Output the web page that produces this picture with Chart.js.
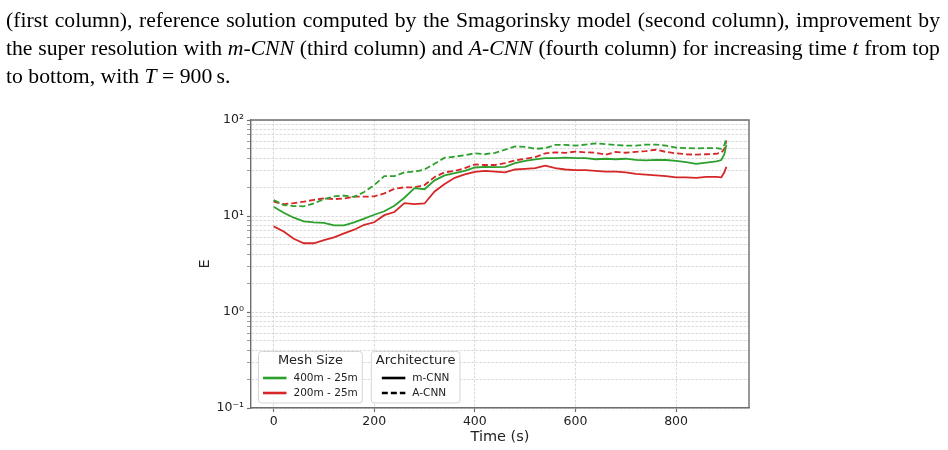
<!DOCTYPE html>
<html>
<head>
<meta charset="utf-8">
<script src="https://cdn.jsdelivr.net/npm/chart.js@4.4.0/dist/chart.umd.min.js"></script>
<style>
  html, body { margin: 0; padding: 0; background: #fff; }
  body { width: 948px; height: 450px; position: relative; overflow: hidden; }
  #energie { position: absolute; left: 0; top: 0; }
  #caption {
    position: absolute; left: 6px; top: 5.7px; width: 934px;
    font-family: "Liberation Serif", "Times New Roman", serif;
    font-size: 21.7px; line-height: 28px; color: #000;
  }
  #caption div { white-space: nowrap; }
  #caption .just { text-align: justify; text-align-last: justify; }
</style>
</head>
<body>
<canvas id="energie" width="948" height="450"></canvas>
<div id="caption">
  <div class="just">(first column), reference solution computed by the Smagorinsky model (second column), improvement by</div>
  <div class="just">the super resolution with <i>m-CNN</i> (third column) and <i>A-CNN</i> (fourth column) for increasing time <i>t</i> from top</div>
  <div>to bottom, with <i>T</i>&nbsp;=&nbsp;900&thinsp;s.</div>
</div>
<script>
var time = [0, 20, 40, 60, 80, 100, 120, 140, 160, 180,
  200, 220, 240, 260, 280, 300, 320, 340, 360, 380,
  400, 420, 440, 460, 480, 500, 520, 540, 560, 580,
  600, 620, 640, 660, 680, 700, 720, 740, 760, 780,
  800, 820, 840, 860, 880, 890, 896, 900];

// 400m - 25m, m-CNN (green solid)
var mCnn400 = [12.5, 10.8, 9.6, 8.8, 8.6, 8.5, 8.0, 8.0, 8.6, 9.4,
  10.3, 11.2, 12.8, 15.5, 19.5, 19.0, 23.5, 26.5, 28.0, 29.5,
  32.0, 32.5, 32.3, 32.5, 35.5, 37.5, 38.8, 40.0, 40.0, 40.5,
  40.0, 40.0, 39.0, 39.5, 39.0, 39.5, 38.5, 38.0, 38.5, 38.3,
  37.5, 36.5, 35.0, 36.0, 37.0, 38.3, 44.0, 55.0];
// 200m - 25m, m-CNN (red solid)
var mCnn200 = [7.8, 6.9, 5.8, 5.2, 5.2, 5.6, 6.0, 6.6, 7.2, 8.1,
  8.6, 10.2, 11.0, 13.6, 13.3, 13.5, 18.0, 21.5, 25.0, 27.2,
  28.8, 29.5, 29.0, 28.5, 30.5, 31.0, 31.5, 33.5, 31.5, 30.5,
  30.0, 30.0, 29.5, 29.0, 29.0, 28.5, 27.4, 27.0, 26.5, 26.0,
  25.3, 25.3, 25.0, 25.5, 25.5, 25.3, 28.5, 32.5];
// 400m - 25m, A-CNN (green dashed)
var aCnn400 = [14.7, 13.0, 12.7, 12.6, 13.5, 15.0, 16.0, 16.3, 15.8, 17.8,
  21.0, 26.0, 26.0, 28.5, 29.0, 30.5, 35.0, 40.5, 41.5, 43.0,
  45.0, 44.0, 45.5, 49.0, 53.0, 52.5, 50.0, 51.0, 55.0, 55.0,
  54.0, 55.5, 57.0, 56.0, 55.0, 54.0, 54.0, 55.5, 55.5, 54.0,
  51.5, 51.0, 50.7, 51.0, 51.0, 50.0, 55.0, 64.0];
// 200m - 25m, A-CNN (red dashed)
var aCnn200 = [14.1, 13.3, 13.6, 14.1, 14.7, 15.3, 15.0, 15.2, 15.9, 15.9,
  16.0, 17.2, 19.2, 19.9, 19.9, 21.0, 25.5, 28.5, 29.5, 31.5,
  34.5, 34.0, 34.0, 35.5, 38.0, 39.5, 41.0, 45.0, 46.0, 45.5,
  46.8, 46.0, 45.6, 43.5, 46.5, 45.6, 46.5, 47.5, 49.0, 46.5,
  45.0, 44.0, 43.5, 44.0, 44.5, 45.6, 50.0, 61.0];

var xTicks = [0, 200, 400, 600, 800];
var yTicks = [0.1, 1, 10, 100];
var yTickLabels = ['10\u207B\u00B9', '10\u2070', '10\u00B9', '10\u00B2'];

var meshTitle = 'Mesh Size';
var meshLabels = ['400m - 25m', '200m - 25m'];
var archTitle = 'Architecture';
var archLabels = ['m-CNN', 'A-CNN'];

var green = '#2ca02c';
var red = '#d62728';
var spine = '#6e6e6e';
var gridColor = '#cfcfcf';

function points(values) {
  return values.map(function (v, i) { return { x: time[i], y: v }; });
}

// minor + major ticks of the log axis (positions of grid lines)
function logTicks() {
  var out = [];
  for (var d = 0; d < yTicks.length - 1; d++) {
    for (var m = 1; m < 10; m++) out.push({ value: yTicks[d] * m });
  }
  out.push({ value: yTicks[yTicks.length - 1] });
  return out;
}

// frame on top and right + the two legend boxes
var extras = {
  id: 'extras',
  afterDatasetsDraw: function (chart) {
    var ctx = chart.ctx;
    var a = chart.chartArea;
    ctx.save();
    ctx.strokeStyle = spine;
    ctx.lineWidth = 1.4;
    ctx.beginPath();
    ctx.moveTo(a.left, a.top);
    ctx.lineTo(a.right, a.top);
    ctx.lineTo(a.right, a.bottom);
    ctx.stroke();

    var x = a.left + 7.5;
    var y = a.bottom - 56.5;
    var w1 = legendBox(ctx, x, y, meshTitle, meshLabels, function (i) {
      return { color: i === 0 ? green : red, dash: [] };
    });
    legendBox(ctx, x + w1 + 9, y, archTitle, archLabels, function (i) {
      return { color: '#000', dash: i === 0 ? [] : [6, 3] };
    });
    ctx.restore();
  }
};

function legendBox(ctx, x, y, title, labels, styleOf) {
  var pad = 4.5, handle = 23.5, gap = 7, h = 51.5;
  ctx.font = '13px "DejaVu Sans"';
  var titleW = ctx.measureText(title).width;
  ctx.font = '10.5px "DejaVu Sans"';
  var textW = 0;
  labels.forEach(function (l) { textW = Math.max(textW, ctx.measureText(l).width); });
  var entriesW = handle + gap + textW;
  var w = Math.max(titleW, entriesW) + 2 * pad;

  ctx.beginPath();
  ctx.roundRect(x, y, w, h, 3);
  ctx.fillStyle = 'rgba(255,255,255,0.85)';
  ctx.fill();
  ctx.strokeStyle = '#d5d5d5';
  ctx.lineWidth = 1;
  ctx.stroke();

  ctx.fillStyle = '#222';
  ctx.textBaseline = 'middle';
  ctx.textAlign = 'center';
  ctx.font = '13px "DejaVu Sans"';
  ctx.fillText(title, x + w / 2, y + 9.5);

  var ex = x + (w - entriesW) / 2;
  ctx.font = '10.5px "DejaVu Sans"';
  ctx.textAlign = 'left';
  labels.forEach(function (l, i) {
    var ly = y + 26.5 + i * 15;
    var s = styleOf(i);
    ctx.strokeStyle = s.color;
    ctx.lineWidth = 2.6;
    ctx.setLineDash(s.dash);
    ctx.beginPath();
    ctx.moveTo(ex, ly);
    ctx.lineTo(ex + handle, ly);
    ctx.stroke();
    ctx.setLineDash([]);
    ctx.fillStyle = '#222';
    ctx.fillText(l, ex + handle + gap, ly);
  });
  return w;
}

var energie = document.getElementById('energie').getContext('2d');
var chartEnergie = new Chart(energie, {
  type: 'line',
  data: {
    datasets: [{
      label: '400m - 25m m-CNN',
      data: points(mCnn400),
      borderColor: green,
      borderWidth: 1.8
    }, {
      label: '200m - 25m m-CNN',
      data: points(mCnn200),
      borderColor: red,
      borderWidth: 1.8
    }, {
      label: '400m - 25m A-CNN',
      data: points(aCnn400),
      borderColor: green,
      borderWidth: 1.8,
      borderDash: [6, 3]
    }, {
      label: '200m - 25m A-CNN',
      data: points(aCnn200),
      borderColor: red,
      borderWidth: 1.8,
      borderDash: [6, 3]
    }]
  },
  options: {
    responsive: false,
    animation: false,
    events: [],
    elements: { point: { radius: 0 }, line: { tension: 0, fill: false } },
    layout: { padding: { left: 190, top: 120, right: 199, bottom: 0 } },
    plugins: { legend: { display: false }, tooltip: { enabled: false } },
    scales: {
      x: {
        type: 'linear',
        min: -45,
        max: 945,
        afterBuildTicks: function (scale) {
          scale.ticks = xTicks.map(function (v) { return { value: v }; });
        },
        afterFit: function (scale) { scale.height = 42; },
        ticks: {
          autoSkip: false,
          maxRotation: 0,
          padding: 2,
          color: '#222',
          font: { family: 'DejaVu Sans', size: 12.5 }
        },
        grid: {
          color: gridColor,
          lineWidth: 0.8,
          tickLength: 4,
          tickColor: spine,
          tickWidth: 1.2,
          tickBorderDash: []
        },
        border: { color: spine, width: 1.4, dash: [2.5, 1.5] },
        title: {
          display: true,
          text: 'Time (s)',
          color: '#222',
          font: { family: 'DejaVu Sans', size: 14.5 },
          padding: { top: 0, bottom: 4 }
        }
      },
      y: {
        type: 'logarithmic',
        min: 0.1,
        max: 100,
        afterBuildTicks: function (scale) { scale.ticks = logTicks(); },
        afterFit: function (scale) { scale.width = 61; },
        ticks: {
          autoSkip: false,
          padding: 3,
          color: '#222',
          font: { family: 'DejaVu Sans', size: 12.5 },
          callback: function (value) {
            for (var i = 0; i < yTicks.length; i++) {
              if (Math.abs(value - yTicks[i]) < yTicks[i] * 1e-6) return yTickLabels[i];
            }
            return '';
          }
        },
        grid: {
          color: gridColor,
          lineWidth: 0.8,
          tickLength: 4,
          tickColor: spine,
          tickWidth: function (c) {
            return yTicks.indexOf(c.tick && c.tick.value) >= 0 ? 1.2 : 0.7;
          },
          tickBorderDash: []
        },
        border: { color: spine, width: 1.4, dash: [2.5, 1.5] },
        title: {
          display: true,
          text: 'E',
          color: '#222',
          font: { family: 'DejaVu Sans', size: 14.5 },
          padding: { top: 7, bottom: 0 }
        }
      }
    }
  },
  plugins: [extras]
});
</script>
</body>
</html>
